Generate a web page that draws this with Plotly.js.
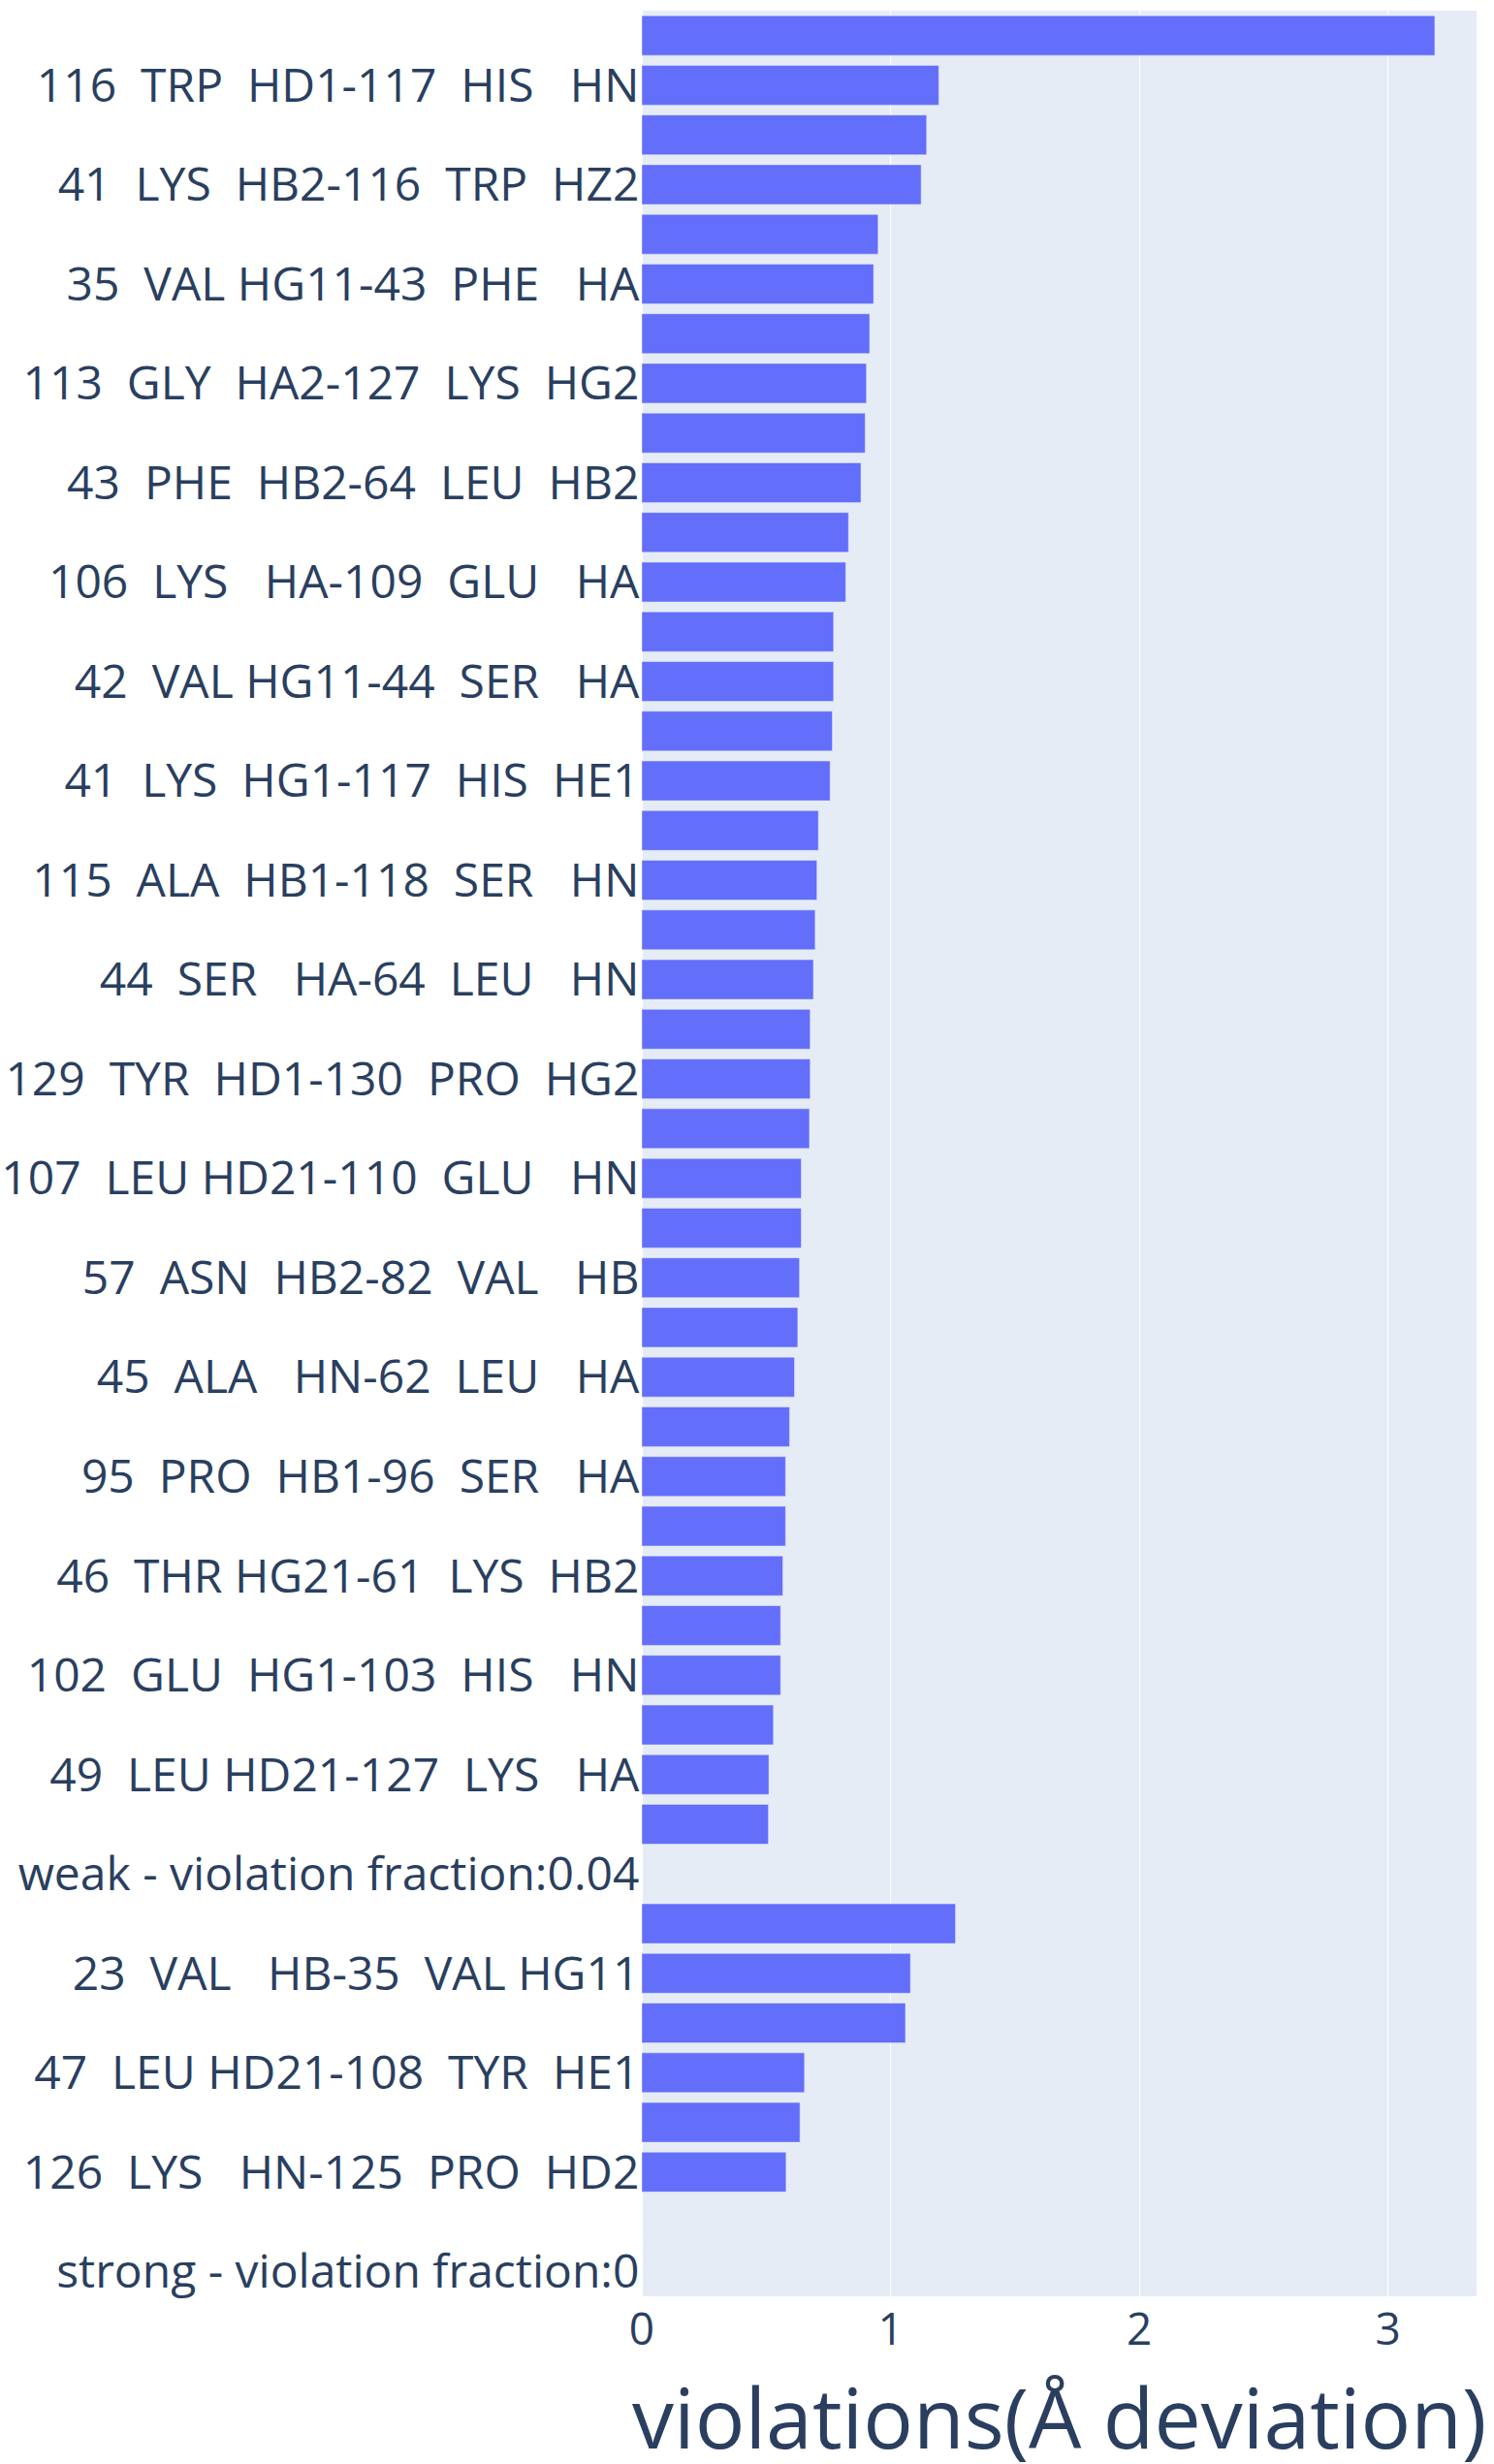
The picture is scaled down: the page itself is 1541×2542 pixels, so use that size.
<!DOCTYPE html>
<html>
<head>
<meta charset="utf-8">
<script src="https://cdn.plot.ly/plotly-3.0.1.min.js"></script>
<style>
  html, body { margin: 0; padding: 0; background: #ffffff; }
  #chart { width: 1541px; height: 2542px; }
</style>
</head>
<body>
<div id="chart"></div>
<script>
// Categories listed bottom to top (Plotly category order).
// Odd-position labels are not drawn in the reference (tick labels skip every other
// category), so those names could not be read; neutral placeholders are used.
const restraints = [
  "strong - violation fraction:0",
  "restraint (label not shown) 1",
  "126  LYS   HN-125  PRO  HD2",
  "restraint (label not shown) 3",
  "47  LEU HD21-108  TYR  HE1",
  "restraint (label not shown) 5",
  "23  VAL   HB-35  VAL HG11",
  "restraint (label not shown) 7",
  "weak - violation fraction:0.04",
  "restraint (label not shown) 9",
  "49  LEU HD21-127  LYS   HA",
  "restraint (label not shown) 11",
  "102  GLU  HG1-103  HIS   HN",
  "restraint (label not shown) 13",
  "46  THR HG21-61  LYS  HB2",
  "restraint (label not shown) 15",
  "95  PRO  HB1-96  SER   HA",
  "restraint (label not shown) 17",
  "45  ALA   HN-62  LEU   HA",
  "restraint (label not shown) 19",
  "57  ASN  HB2-82  VAL   HB",
  "restraint (label not shown) 21",
  "107  LEU HD21-110  GLU   HN",
  "restraint (label not shown) 23",
  "129  TYR  HD1-130  PRO  HG2",
  "restraint (label not shown) 25",
  "44  SER   HA-64  LEU   HN",
  "restraint (label not shown) 27",
  "115  ALA  HB1-118  SER   HN",
  "restraint (label not shown) 29",
  "41  LYS  HG1-117  HIS  HE1",
  "restraint (label not shown) 31",
  "42  VAL HG11-44  SER   HA",
  "restraint (label not shown) 33",
  "106  LYS   HA-109  GLU   HA",
  "restraint (label not shown) 35",
  "43  PHE  HB2-64  LEU  HB2",
  "restraint (label not shown) 37",
  "113  GLY  HA2-127  LYS  HG2",
  "restraint (label not shown) 39",
  "35  VAL HG11-43  PHE   HA",
  "restraint (label not shown) 41",
  "41  LYS  HB2-116  TRP  HZ2",
  "restraint (label not shown) 43",
  "116  TRP  HD1-117  HIS   HN",
  "restraint (label not shown) 45"
];

// Violation (Å deviation), same order as restraints; null = no bar (group header / empty row)
const violations = [
  null, null, 0.580, 0.636, 0.654, 1.060, 1.080, 1.261,
  null, 0.509, 0.511, 0.529, 0.558, 0.558, 0.567, 0.578,
  0.578, 0.594, 0.614, 0.627, 0.634, 0.641, 0.641, 0.674,
  0.677, 0.677, 0.690, 0.697, 0.704, 0.710, 0.757, 0.766,
  0.771, 0.771, 0.820, 0.831, 0.881, 0.898, 0.903, 0.916,
  0.932, 0.950, 1.123, 1.145, 1.194, 3.188
];

const xTitle = "violations(Å deviation)";

const trace = {
  type: "bar",
  orientation: "h",
  x: violations,
  y: restraints,
  marker: { color: "#636efa", line: { color: "#E5ECF6", width: 0.5 } },
  showlegend: false
};

const layout = {
  width: 1541,
  height: 2542,
  margin: { l: 662, r: 18, t: 11, b: 173, pad: 0 },
  paper_bgcolor: "#ffffff",
  plot_bgcolor: "#E5ECF6",
  font: { family: "Open Sans, verdana, arial, sans-serif", color: "#2a3f5f", size: 48 },
  bargap: 0.2,
  xaxis: {
    tickmode: "linear",
    tick0: 0,
    dtick: 1,
    tickfont: { size: 46 },
    ticklabelstandoff: -6,
    gridcolor: "white",
    linecolor: "white",
    zerolinecolor: "white",
    zerolinewidth: 2,
    ticks: "",
    automargin: false
  },
  yaxis: {
    type: "category",
    tickmode: "linear",
    tick0: 0,
    dtick: 2,
    tickfont: { size: 48 },
    ticklabelstandoff: -8,
    showgrid: false,
    linecolor: "white",
    ticks: "",
    automargin: false
  },
  annotations: [{
    text: xTitle,
    xref: "paper", yref: "paper",
    x: 0.5, y: 0,
    xanchor: "center", yanchor: "top",
    yshift: -63,
    showarrow: false,
    font: { size: 86, color: "#2a3f5f" }
  }]
};

Plotly.newPlot("chart", [trace], layout, { displayModeBar: false, staticPlot: true });
</script>
</body>
</html>
